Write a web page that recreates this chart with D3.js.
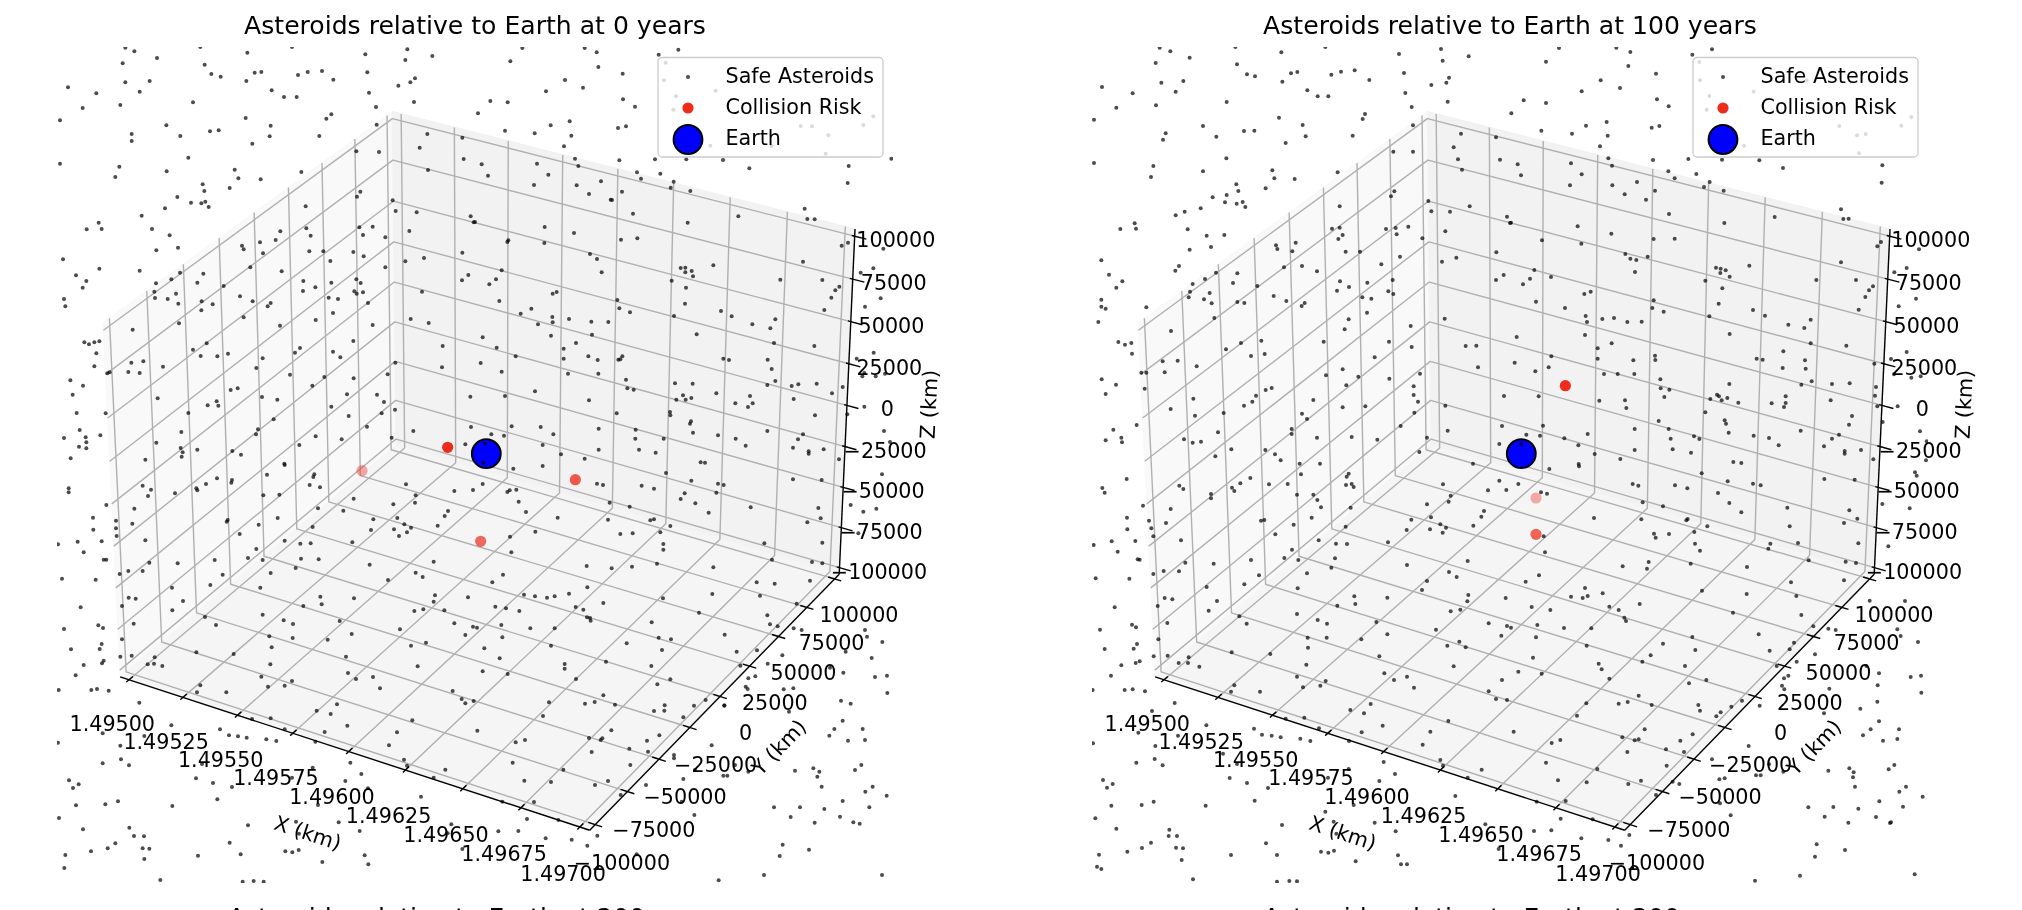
<!DOCTYPE html>
<html>
<head>
<meta charset="utf-8">
<script src="https://cdn.jsdelivr.net/npm/d3@7"></script>
<style>
  html, body { margin: 0; padding: 0; background: #fff; overflow: hidden; }
  svg { display: block; filter: blur(0.75px); }
  text { font-family: "DejaVu Sans", sans-serif; fill: #000; }
</style>
</head>
<body>
<div id="plot-container"></div>
<script>
// axis values
var xTicks = [1.495, 1.49525, 1.4955, 1.49575, 1.496, 1.49625, 1.4965, 1.49675, 1.497]
var yTicks = [-100000, -75000, -50000, -25000, 0, 25000, 50000, 75000, 100000]
var zTicks = [-100000, -75000, -50000, -25000, 0, 25000, 50000, 75000, 100000]
var titles = ['Asteroids relative to Earth at 0 years', 'Asteroids relative to Earth at 100 years']
var nextTitles = ['Asteroids relative to Earth at 200 years', 'Asteroids relative to Earth at 300 years']
var legendNames = ['Safe Asteroids', 'Collision Risk', 'Earth']
var earth = [1.496, 0, 0]

// the 3d depth of the asteroids can't be read from the picture, so they are
// kept as view plane readings, one list per quarter of the view (1254 units a side)
var safe0NW = [[205,2],[232,13],[430,0],[571,17],[705,0],[925,22],[1051,7],[1126,27],[1045,39],[300,33],[197,49],[443,53],[931,76],[463,81],[491,89],[593,77],[613,75],[723,84],[752,75],[795,72],[829,98],[1074,94],[1060,106],[1024,116],[205,106],[278,102],[568,102],[33,121],[118,139],[248,134],[644,130],[681,150],[719,150],[936,137],[408,166],[1071,165],[190,174],[77,183],[957,180],[566,213],[808,215],[823,202],[9,220],[328,235],[641,236],[959,233],[459,253],[485,250],[224,261],[224,282],[370,267],[638,268],[787,267],[586,290],[394,332],[9,350],[187,359],[329,373],[175,390],[533,368],[544,394],[611,397],[733,375],[437,412],[442,432],[518,423],[361,450],[402,467],[433,469],[445,464],[455,480],[324,484],[254,506],[89,547],[125,527],[134,546],[285,546],[338,565],[363,602],[298,610],[18,637],[127,665],[248,671],[57,685],[88,702],[77,722],[21,756],[25,778],[82,886],[96,892],[112,886],[127,883],[118,919],[112,958],[40,1000],[78,1016],[47,1043],[59,1098],[146,1099],[68,1149],[21,1173],[86,1171],[88,1186],[66,1199],[88,1204],[130,1165],[41,1234],
[1111,261],[1216,272],[1088,302],[898,313],[966,315],[1220,336],[1113,369],[910,434],[900,449],[1007,460],[1016,492],[1079,496],[1241,508],[1250,526],[746,478],[748,544],[761,566],[907,541],[947,539],[918,564],[985,571],[1057,552],[670,553],[609,586],[656,579],[555,596],[560,607],[618,619],[757,613],[799,613],[889,615],[920,628],[820,642],[1045,643],[1101,633],[985,661],[1216,617],[580,661],[674,673],[369,677],[439,680],[343,697],[297,709],[421,707],[500,717],[739,702],[823,707],[775,721],[738,732],[898,697],[911,708],[892,733],[899,740],[918,736],[1234,684],[1215,700],[1095,734],[292,734],[294,753],[357,740],[332,756],[364,770],[434,763],[467,772],[549,748],[587,763],[641,768],[632,778],[433,790],[815,752],[843,756],[933,768],[828,798],[560,811],[366,829],[776,819],[669,836],[1061,816],[1115,828],[947,834],[227,848],[449,889],[889,882],[1157,897],[408,908],[729,903],[714,917],[828,914],[850,931],[431,927],[481,928],[513,920],[617,934],[259,943],[223,947],[1015,947],[1155,961],[318,959],[598,963],[214,975],[248,978],[151,979],[158,976],[699,983],[992,982],[802,990],[890,994],[766,1016],[521,1029],[542,1024],[302,1054],[615,1050],[661,1058],[870,1042],[960,1043],[981,1065],[1240,1049],[479,1063],[452,1075],[484,1076],[823,1079],[394,1098],[1014,1088],[974,1099],[875,1107],[650,1117],[930,1139],[1242,1140],[603,1147],[373,1155],[597,1162],[1069,1152],[776,1168],[854,1177],[1004,1172],[298,1187],[727,1194],[1225,1192],[371,1203],[421,1208],[526,1212],[377,1216],[374,1229],[552,1223],[265,1238],[682,1250]]
var safe0NE = [[142,3],[329,3],[365,16],[610,8],[551,23],[106,43],[370,60],[443,80],[270,99],[213,133],[324,122],[46,162],[98,166],[444,157],[480,179],[9,199],[227,235],[284,223],[429,243],[453,238],[90,251],[179,259],[289,266],[267,298],[300,335],[433,340],[540,337],[634,337],[744,339],[1249,335],[310,357],[823,364],[1121,357],[486,376],[556,380],[498,395],[596,404],[587,422],[646,432],[1118,408],[989,485],[790,508],[997,516],[1019,517],
[572,47],[567,100],[603,148],[595,188],[722,131],[1195,208],[977,237],[1011,238],[1165,234],[1060,265],[890,297],[1052,320],[706,296],
[20,352],[186,350],[220,383],[39,386],[177,414],[305,415],[378,403],[342,441],[407,458],[411,459],[441,434],[474,500],[638,527],[209,540],[297,558],[438,578],[487,574],[100,580],[97,585],[208,588],[1100,596],[1119,587],[0,525],[345,621],[366,636],[984,644],[715,655],[617,663],[631,662],[650,672],[631,676],[654,688],[80,670],[63,697],[43,712],[380,676],[590,701],[916,698],[1042,699],[633,722],[1093,719],[1081,730],[1069,752],[233,740],[245,735],[73,762],[427,759],[630,770],[169,785],[433,784],[465,796],[1048,789],[738,792],[137,800],[232,810],[597,807],[770,808],[901,817],[282,816],[233,826],[189,832],[349,824],[400,825],[832,832],[886,844],[228,866],[351,863],[665,862],[23,871],[303,888],[897,888],[1018,897],[65,902],[266,905],[122,928],[340,928],[442,928],[430,938],[436,937],[266,935],[368,939],[745,935],[762,939],[878,938],[17,948],[80,974],[890,966],[279,980],[370,980],[453,998],[901,1002],[600,1009],[653,1010],[877,1014],[950,1017],[970,1012],[1025,1010],[1103,1020],[457,1024],[476,1028],[180,1033],[724,1039],[1071,1039],[90,1047],[624,1045],[649,1053],[604,1058],[632,1058],[825,1047],[342,1060],[956,1056],[781,1069],[833,1069],[819,1080],[585,1095],[586,1105],[425,1099],[1020,1105],[648,1123],[645,1130],[110,1138],[197,1140],[371,1145],[482,1148],[49,1162],[87,1166],[235,1162],[654,1157],[877,1152],[729,1165],[481,1175],[566,1175],[782,1175],[969,1177],[984,1162],[203,1194],[812,1196],[954,1202],[371,1208],[492,1208],[542,1217],[1001,1213],[1046,1207],[1001,1220],[258,1222],[329,1235],[677,1246],[690,1247],[1092,1237],[30,1190],[25,1248],
[1225,605],[1157,677],[1195,664],[1170,779],[1217,754],[1196,917],[1145,935],[1168,978],[1202,988],[1230,980],[1162,988],[1168,1079],[1117,1102],[1227,1152],[1245,1185]]
var safe0SW = [[35,70],[35,82],[148,120],[108,158],[109,194],[3,238],[62,230],[134,229],[80,262],[140,284],[148,284],[15,341],[116,344],[71,427],[21,492],[124,481],[138,489],[134,537],[128,552],[42,553],[140,587],[135,595],[80,600],[56,631],[103,675],[120,672],[155,677],[5,675],[247,713],[3,833],[137,805],[190,842],[137,895],[192,883],[216,901],[36,946],[65,958],[48,969],[57,1021],[145,1018],[183,1009],[6,1059],[78,1093],[217,1088],[231,1113],[261,1114],[175,1135],[152,1150],[102,1159],[257,1150],[277,1151],[25,1170],[262,1182],[22,1209],[310,1245],[590,1248],[557,1250],[620,1250],
[343,781],[489,793],[516,811],[543,814],[569,818],[628,823],[658,828],[262,813],[435,897],[417,940],[468,954],[525,966],[481,1003],[346,1023],[573,1081],[518,1133],[551,1168],[423,1172],[685,1159],[706,1162],[725,1155],[726,1106],[717,1070],[845,1072],[908,1098],[923,1171],[796,1191],[934,1198],[783,1020],[705,938],[767,908],[865,948],[913,927],[933,970],[1092,995],[1183,1078],[1216,1152],[1172,1105],
[257,62],[282,74],[273,93],[354,85],[418,70],[421,76],[447,57],[480,40],[525,45],[523,53],[630,29],[772,28],[769,36],[683,0],[758,60],[789,67],[619,91],[667,89],[1047,58],[1192,78],[1248,75],[1076,91],[1074,113],[890,101],[1009,118],[783,130],[859,137],[232,131],[1173,138],[1163,153],[177,167],[662,159],[512,165],[509,170],[1021,159],[949,163],[1042,178],[1062,188],[226,176],[177,190],[605,179],[767,186],[1011,193],[942,195],[1142,182],[1050,202],[179,213],[548,207],[1026,213],[265,226],[683,227],[730,236],[761,235],[886,232],[598,252],[573,279],[732,281],[785,283],[1130,290],[473,285],[617,285],[277,293],[362,295],[938,299],[716,309],[257,318],[214,318],[188,327],[641,324],[497,329],[1076,323],[1097,336],[993,345],[460,360],[610,368],[345,368],[1134,391],[215,398],[236,401],[790,395],[891,400],[1233,397],[378,408],[794,418],[1130,410],[195,423],[739,423],[346,436],[1072,438],[1099,433],[1162,436],[617,449],[444,456],[680,466],[848,468],[708,477],[230,476],[477,480],[1192,475],[1029,493],[1248,485],[884,507],[1225,510],[637,514],[707,519],[812,524],[195,523],[1062,542],[1107,533],[644,547],[418,562],[530,567],[224,572],[867,575],[293,577],[190,575],[272,598],[291,596],[316,603],[640,598],[1082,604],[873,624],[613,635],[897,642],[948,636],[705,648],[430,661],[633,665],[683,662],[969,670],[420,682],[508,682],[1187,678],[1214,702],[1250,708],[1225,715],[840,718],[779,737],[821,747],[641,760],[585,762],[1066,766],[871,782],[683,793],[803,801],[1020,802],[775,830],[996,841],[880,893],[1041,884],[1165,914],[1050,902],[1130,938]]
var safe0SE = [[115,11],[203,3],[573,24],[1221,28],[954,43],[1040,45],[366,56],[384,60],[500,62],[537,71],[649,47],[729,56],[746,60],[23,57],[124,74],[97,81],[104,76],[724,83],[629,85],[617,102],[131,110],[661,115],[404,113],[464,125],[827,127],[1030,129],[153,141],[701,143],[248,158],[399,164],[526,166],[537,163],[1037,160],[997,172],[586,183],[181,200],[556,202],[436,207],[473,205],[105,215],[868,235],[1042,233],[565,237],[565,254],[109,262],[891,284],[1011,291],[1042,295],[546,296],[335,303],[410,310],[471,305],[715,307],[84,329],[52,352],[845,352],[899,356],[1005,347],[337,367],[282,386],[147,389],[180,394],[216,398],[239,394],[712,387],[855,392],[564,400],[385,414],[965,416],[61,425],[93,430],[302,426],[325,434],[133,438],[672,443],[877,451],[336,457],[345,459],[347,467],[530,472],[885,478],[79,480],[166,490],[239,490],[6,488],[908,484],[956,490],[980,495],[1170,495],[551,518],[588,523],[749,509],[82,517],[455,535],[228,542],[28,550],[561,555],[785,560],[846,556],[74,580],[1176,515],[1222,531],[393,590],[269,597],[269,611],[529,603],[796,602],[23,619],[98,627],[303,642],[586,643],[547,658],[385,691],[222,712],[330,716],[359,711],[420,719],[657,722],[692,705],[569,721],[568,737],[537,738],[748,721],[625,757],[204,753],[7,797],[409,796],[553,811],[342,819],[377,825],[382,820],[516,827],[122,832],[150,825],[463,851],[519,860],[350,861],[113,893],[466,900],[265,914],[399,948],[228,951],[148,947],[360,960],[513,960],[177,1011],[437,990],[82,1010],[156,1062],[250,1065],[290,1124],[212,1120],[337,1142],[130,1098],[70,1099],[367,1112],[658,1050],[485,1168],
[1127,120],[1165,140],[1204,131],[1190,579],[1105,623],[1200,636],[1236,632],[1237,684],[1098,707],[1127,716],[1103,767],[1078,792],[1063,812],[1163,792],[1119,827],[1170,825],[960,917],[1015,910],[1033,920],[1027,935],[1140,915],[1159,900],[1040,965],[1193,965],[1171,980],[1235,992],[1103,1008],[897,1027],[975,1027],[1048,1032],[1183,1027],[947,1056],[1095,1055],[1135,1072],[1154,1076],[1019,1073],[923,1139],[1002,1154],[914,1173],[867,1230],[1221,1230],[731,1246],
[922,571],[878,596],[1065,608],[820,640],[841,634],[812,665],[818,672],[926,673],[955,670],[748,722],[942,740],[710,841],[597,870],[597,880],[660,915],[745,932],[757,932],[780,900],[820,920],[625,942],[620,1010],[1112,560],[1150,205]]

var safe1NW = [[203,2],[235,13],[430,0],[568,16],[700,0],[921,21],[1047,6],[1130,28],[1052,41],[293,32],[191,48],[435,52],[936,78],[465,82],[489,88],[597,79],[616,75],[718,83],[747,74],[788,70],[832,99],[1071,92],[1063,107],[1018,114],[208,107],[274,102],[571,104],[30,120],[122,139],[251,134],[646,130],[677,148],[709,148],[940,138],[404,165],[1067,164],[192,175],[73,182],[959,180],[561,212],[812,216],[819,201],[6,218],[333,237],[632,234],[963,235],[456,252],[487,251],[221,259],[213,278],[373,269],[641,268],[782,266],[581,288],[403,334],[6,348],[184,357],[333,373],[177,390],[541,370],[547,394],[608,396],[737,376],[433,412],[439,432],[521,424],[404,444],[362,451],[399,466],[434,470],[452,465],[460,480],[326,484],[278,494],[251,505],[85,546],[128,529],[132,545],[287,547],[344,566],[397,564],[357,600],[293,608],[28,640],[261,657],[250,671],[51,683],[91,703],[73,722],[28,758],[28,779],[41,785],[163,781],[19,825],[79,885],[99,893],[118,888],[120,920],[29,997],[72,1013],[41,1041],[134,1134],[64,1148],[41,1180],[88,1172],[90,1186],
[1107,260],[1212,271],[1085,301],[904,314],[963,314],[1098,337],[1224,338],[1110,368],[743,478],[907,433],[897,448],[1009,462],[1018,493],[1074,494],[1133,478],[1245,509],[1254,528],[720,545],[743,542],[752,564],[739,576],[882,546],[911,543],[949,539],[914,562],[991,574],[1060,553],[611,587],[552,595],[556,606],[601,613],[761,614],[804,614],[924,629],[1050,644],[1093,632],[1213,616],[868,652],[576,661],[630,657],[675,673],[372,677],[436,679],[339,696],[302,711],[423,708],[496,717],[902,699],[744,703],[826,707],[771,720],[735,731],[889,733],[904,741],[1235,684],[1212,699],[294,734],[290,751],[353,738],[336,757],[359,769],[436,765],[457,768],[545,747],[583,762],[638,768],[629,777],[811,751],[838,755],[825,797],[367,813],[770,817],[758,847],[956,837],[1058,815],[237,852],[447,888],[508,881],[695,884],[891,884],[1121,897],[1153,896],[402,907],[959,900],[518,921],[477,927],[848,931],[212,943],[257,941],[314,958],[148,977],[163,977],[218,976],[752,967],[1158,961],[984,980],[702,985],[799,989],[892,995],[158,1025],[763,1015],[965,1018],[539,1023],[521,1029],[965,1044],[492,1046],[304,1055],[664,1059],[1236,1047],[978,1064],[481,1064],[456,1076],[236,1086],[1060,1076],[820,1078],[752,1081],[395,1098],[967,1097],[309,1106],[630,1100],[645,1116],[926,1137],[1230,1137],[599,1146],[599,1161],[378,1156],[1067,1151],[675,1172],[779,1170],[276,1177],[856,1178],[1005,1172],[302,1187],[327,1184],[1222,1191],[418,1207],[520,1209],[982,1215],[549,1222],[370,1228],[566,1240],[623,1250],[684,1250],[1143,1250]]
var safe1NE = [[147,3],[319,2],[361,15],[606,7],[547,23],[108,44],[355,57],[438,80],[272,100],[215,133],[330,123],[41,160],[108,168],[441,157],[476,178],[4,199],[228,236],[290,225],[425,242],[448,237],[94,251],[186,260],[293,266],[270,298],[295,334],[429,339],[535,336],[636,338],[748,340],[306,356],[819,363],[1117,355],[475,373],[559,381],[494,394],[599,405],[582,420],[641,431],[1115,407],[993,487],[794,510],[1000,516],[1016,515],
[568,45],[570,100],[598,147],[590,188],[731,134],[1204,210],[988,237],[1041,265],[1067,261],[1174,236],[702,296],[1047,319],[890,100],
[23,352],[183,349],[215,382],[33,385],[180,415],[307,415],[381,405],[344,442],[408,458],[435,431],[477,501],[643,528],[203,538],[304,560],[3,527],[96,580],[214,590],[431,576],[494,575],[1102,598],[1113,585],[346,621],[361,635],[379,639],[413,629],[993,646],[718,656],[618,662],[632,665],[647,670],[631,678],[659,689],[73,669],[123,690],[60,695],[39,712],[375,675],[586,701],[919,699],[1038,699],[637,724],[1089,718],[1077,730],[1066,750],[242,734],[223,741],[78,764],[431,760],[626,770],[165,783],[427,783],[461,794],[1046,788],[729,789],[227,807],[598,808],[765,806],[902,818],[277,816],[312,813],[231,825],[352,825],[395,824],[835,833],[883,843],[225,864],[659,861],[20,870],[305,889],[902,889],[1009,896],[263,904],[820,913],[124,928],[263,935],[435,926],[436,939],[370,940],[740,935],[758,938],[885,940],[1093,950],[14,947],[116,961],[76,973],[818,963],[887,965],[282,981],[323,981],[373,981],[451,997],[905,1003],[658,1011],[874,1013],[966,1011],[1019,1009],[1098,1020],[452,1024],[478,1028],[86,1048],[1095,1046],[621,1043],[627,1048],[652,1053],[601,1056],[635,1060],[463,1050],[827,1048],[268,1061],[345,1060],[962,1060],[685,1067],[785,1069],[827,1068],[822,1080],[349,1083],[1102,1078],[586,1096],[1026,1107],[446,1122],[644,1120],[648,1130],[1017,1133],[99,1136],[374,1146],[476,1146],[872,1151],[49,1163],[90,1166],[233,1161],[656,1157],[731,1166],[552,1168],[163,1174],[482,1175],[568,1176],[777,1173],[966,1175],[987,1163],[205,1195],[806,1195],[942,1198],[374,1209],[488,1207],[543,1217],[1004,1212],[1053,1209],[1004,1220],[254,1221],[331,1236],[670,1245],[694,1248],[1090,1237],[33,1192],[206,1251],
[1227,607],[1153,676],[1190,663],[1166,778],[1218,755],[1190,915],[1143,936],[1152,982],[1204,992],[1232,988],[1163,1078],[1118,1125],[1230,1153],[1250,1183],[1248,1240]]
var safe1SW = [[104,42],[31,69],[38,83],[153,122],[105,158],[106,193],[5,240],[59,229],[130,228],[77,260],[137,283],[143,284],[11,340],[112,341],[68,427],[24,494],[120,479],[132,487],[135,537],[125,551],[38,552],[143,589],[131,594],[88,601],[57,632],[98,675],[122,673],[159,679],[2,675],[248,714],[3,835],[139,803],[180,738],[190,843],[133,893],[188,882],[212,901],[33,945],[62,957],[45,968],[58,1022],[149,1020],[185,1010],[10,1060],[73,1091],[232,1094],[230,1113],[255,1113],[177,1133],[150,1149],[106,1160],[252,1148],[273,1150],[21,1169],[269,1185],[15,1205],[28,1212],[303,1243],[555,1250],[592,1248],[615,1249],
[343,781],[486,791],[510,809],[539,812],[566,817],[625,821],[655,828],[258,812],[393,866],[435,897],[413,939],[465,954],[528,969],[488,1007],[341,1022],[570,1080],[522,1135],[555,1170],[417,1170],[687,1160],[709,1163],[726,1157],[733,1106],[725,1070],[700,1040],[848,1073],[911,1099],[918,1171],[791,1189],[927,1198],[945,1198],[785,1020],[708,938],[770,912],[862,948],[909,927],[1090,993],[1180,1078],[1220,1152],
[262,62],[274,72],[357,87],[357,100],[420,68],[427,78],[445,55],[475,39],[531,58],[587,57],[627,28],[770,26],[764,35],[762,60],[779,57],[785,66],[615,89],[664,89],[676,105],[1053,58],[1188,76],[1243,75],[1222,47],[1076,92],[1070,110],[1005,118],[687,127],[236,132],[776,128],[1176,138],[1168,155],[171,167],[659,158],[507,167],[517,165],[1017,157],[958,164],[1045,178],[1062,188],[222,174],[178,190],[605,179],[761,185],[1014,193],[944,195],[1144,182],[1052,203],[184,214],[550,208],[267,226],[680,226],[732,236],[765,237],[888,232],[600,254],[577,279],[729,280],[619,285],[477,285],[1127,288],[280,293],[365,296],[945,300],[718,308],[261,319],[215,318],[184,327],[645,325],[501,331],[1071,321],[1094,336],[1005,348],[457,358],[617,370],[344,366],[990,375],[1129,390],[218,399],[241,403],[787,394],[886,398],[1241,399],[375,408],[790,417],[1126,409],[197,423],[736,422],[350,437],[1076,439],[1105,434],[615,447],[442,454],[677,465],[853,471],[705,476],[226,474],[464,476],[1190,475],[1032,494],[1245,483],[886,508],[1228,512],[647,518],[704,518],[808,523],[199,523],[1066,542],[1102,530],[1121,547],[648,548],[419,562],[535,567],[227,572],[862,574],[290,577],[185,574],[260,594],[288,594],[322,605],[643,599],[1085,604],[877,625],[1230,645],[615,635],[906,645],[945,635],[701,648],[427,661],[633,667],[685,662],[966,668],[417,680],[504,680],[1190,679],[1212,702],[1245,705],[836,717],[775,735],[816,745],[637,758],[581,761],[1069,768],[872,782],[681,790],[809,802],[1015,800],[771,828],[992,839],[875,891],[1045,885],[1169,914],[1053,902],[1127,938]]
var safe1SE = [[118,12],[207,4],[575,25],[1215,22],[1220,32],[943,42],[1034,44],[368,57],[385,62],[495,61],[532,70],[653,49],[729,56],[752,61],[25,57],[93,82],[111,86],[624,84],[398,112],[459,124],[658,114],[832,128],[1018,136],[1117,117],[1199,130],[694,142],[252,159],[394,163],[529,166],[533,162],[1042,161],[1002,174],[592,184],[839,184],[553,201],[432,206],[437,218],[477,207],[101,214],[864,234],[1045,235],[555,236],[781,236],[775,251],[570,257],[105,262],[1135,244],[896,286],[1007,290],[1038,294],[416,291],[542,296],[338,304],[411,311],[711,306],[87,331],[47,350],[843,352],[1002,346],[225,369],[278,385],[233,393],[183,395],[218,399],[576,377],[710,387],[859,393],[389,417],[65,426],[121,435],[298,425],[326,435],[669,443],[874,450],[343,458],[348,468],[82,480],[162,489],[244,490],[3,488],[910,484],[955,491],[977,495],[1162,493],[547,516],[746,508],[78,517],[459,536],[230,542],[556,555],[779,557],[852,533],[839,553],[422,571],[69,578],[1172,513],[1224,531],[397,590],[266,596],[275,613],[525,603],[800,603],[25,620],[95,626],[298,641],[589,645],[537,655],[386,692],[229,715],[326,716],[353,711],[425,720],[664,725],[696,707],[565,720],[570,737],[632,742],[619,754],[201,752],[11,800],[404,793],[548,808],[337,817],[374,826],[386,823],[511,827],[125,834],[151,825],[468,853],[522,861],[352,861],[108,893],[470,902],[262,912],[393,947],[230,952],[144,946],[355,957],[508,957],[167,1008],[488,950],[438,990],[80,1010],[152,1061],[248,1063],[295,1125],[214,1120],[333,1142],[124,1096],[72,1098],[358,1110],[662,1051],
[1079,407],[1185,408],[915,568],[860,590],[1069,603],[1107,625],[1202,636],[1233,632],[1103,661],[1234,683],[1102,710],[1051,731],[1107,769],[1082,793],[1059,811],[1167,793],[1119,827],[1162,822],[958,671],[822,640],[835,632],[816,662],[823,673],[749,722],[942,745],[716,843],[606,883],[628,943],[644,940],[738,931],[752,931],[777,898],[820,920],[630,1015],[1153,900],[1136,913],[955,917],[1018,910],[1031,922],[1029,937],[1035,965],[1188,965],[1168,980],[1238,995],[1108,1009],[895,1027],[970,1026],[1045,1031],[1179,1025],[944,1055],[1098,1056],[1143,1072],[1140,1074],[1015,1073],[920,1138],[1005,1155],[915,1175],[870,1232],[1214,1228],[735,1247]]

// collision risk asteroids, same view plane (0 to 2508), with their depth shade
var risk0 = [[1172,1201],[915,1271],[1555,1298],[1271,1483]]
var riskShade0 = [1, 0.4, 0.78, 0.7]
var risk1 = [[1420,1016],[1332,1353],[1332,1462]]
var riskShade1 = [1, 0.38, 0.72]

var panels = [
  {left: 57, title: titles[0], next: nextTitles[0], risk: risk0, shade: riskShade0,
   quarters: [safe0NW, safe0NE, safe0SW, safe0SE]},
  {left: 1092, title: titles[1], next: nextTitles[1], risk: risk1, shade: riskShade1,
   quarters: [safe1NW, safe1NE, safe1SW, safe1SE]}
]

var axTop = 47 // plain "top" is taken by window.top
var size = 836

// matplotlib's default 3d camera: elev 30, azim -60, dist 10
var el = 30 * Math.PI / 180
var az = -60 * Math.PI / 180
var dist = 10
var box = [1.1905, 1.1905, 0.8929]
var R = box.map(d => d / 2)
var w = [Math.cos(el) * Math.cos(az), Math.cos(el) * Math.sin(az), Math.sin(el)]
var u = [-Math.sin(az), Math.cos(az), 0]
var v = [-Math.sin(el) * Math.cos(az), -Math.sin(el) * Math.sin(az), Math.cos(el)]
var dot = (a, b) => a[0] * b[0] + a[1] * b[1] + a[2] * b[2]

// limits get matplotlib's 1/48 view margin
function withMargin (ticks) {
  var lo = d3.min(ticks), hi = d3.max(ticks)
  return [lo - (hi - lo) / 48, hi + (hi - lo) / 48]
}
var xBox = d3.scaleLinear().domain(withMargin(xTicks)).range([0, 1])
var yBox = d3.scaleLinear().domain(withMargin(yTicks)).range([0, 1])
var zBox = d3.scaleLinear().domain(withMargin(zTicks)).range([0, 1])

var svg = d3.select('#plot-container').append('svg')
  .attr('width', 2022)
  .attr('height', 910)

panels.forEach(function (p, i) {
  var xView = d3.scaleLinear().domain([-0.095, 0.09]).range([p.left, p.left + size])
  var yView = d3.scaleLinear().domain([-0.095, 0.09]).range([axTop + size, axTop])
  var uScale = d3.scaleLinear().domain([0, 2508]).range([p.left, p.left + size])
  var vScale = d3.scaleLinear().domain([0, 2508]).range([axTop, axTop + size])

  // a point given as fractions of the box
  function project (fx, fy, fz) {
    var q = [fx * box[0] - R[0], fy * box[1] - R[1], fz * box[2] - R[2]]
    var depth = dist - dot(q, w)
    return [xView(dot(q, u) / depth), yView(dot(q, v) / depth)]
  }
  var path = d3.line()

  var g = svg.append('g')

  // panes
  var panes = [
    {c: [[0, 0, 0], [0, 1, 0], [0, 1, 1], [0, 0, 1]], fill: '#f9f9f9'},
    {c: [[0, 1, 0], [1, 1, 0], [1, 1, 1], [0, 1, 1]], fill: '#f2f2f2'},
    {c: [[0, 0, 0], [1, 0, 0], [1, 1, 0], [0, 1, 0]], fill: '#f5f5f5'}
  ]
  g.selectAll('.pane').data(panes).enter().append('path')
    .attr('class', 'pane')
    .attr('d', d => path(d.c.map(c => project(c[0], c[1], c[2]))) + 'Z')
    .attr('fill', d => d.fill)
    .attr('stroke', d => d.fill)
    .attr('stroke-width', 1.3)

  // grid lines run along the floor and up the walls
  var gridLines = []
  xTicks.forEach(t => gridLines.push([[xBox(t), 0, 0], [xBox(t), 1, 0], [xBox(t), 1, 1]]))
  yTicks.forEach(t => gridLines.push([[1, yBox(t), 0], [0, yBox(t), 0], [0, yBox(t), 1]]))
  zTicks.forEach(t => gridLines.push([[0, 0, zBox(t)], [0, 1, zBox(t)], [1, 1, zBox(t)]]))
  g.selectAll('.grid').data(gridLines).enter().append('path')
    .attr('class', 'grid')
    .attr('d', d => path(d.map(c => project(c[0], c[1], c[2]))))
    .attr('fill', 'none')
    .attr('stroke', '#b0b0b0')
    .attr('stroke-width', 1.4)
    .attr('stroke-linejoin', 'round')

  // axis lines
  var axisLines = [[[0, 0, 0], [1, 0, 0]], [[1, 0, 0], [1, 1, 0]], [[1, 1, 0], [1, 1, 1]]]
  xTicks.forEach(t => axisLines.push([[xBox(t), -0.009, 0], [xBox(t), 0.013, 0]]))
  yTicks.forEach(t => axisLines.push([[0.986, yBox(t), 0], [1.014, yBox(t), 0]]))
  zTicks.forEach(t => axisLines.push([[0.994, 1, zBox(t)], [1.024, 1, zBox(t)]]))
  g.selectAll('.axisline').data(axisLines).enter().append('path')
    .attr('class', 'axisline')
    .attr('d', d => path(d.map(c => project(c[0], c[1], c[2]))))
    .attr('fill', 'none')
    .attr('stroke', '#000')
    .attr('stroke-width', 1.4)

  // tick labels
  var fmt = t => String(t).replace('-', '\u2212')
  var tickLabels = []
  xTicks.forEach(t => tickLabels.push({pos: project(xBox(t), -0.06, -0.08), text: t.toFixed(5)}))
  yTicks.forEach(t => tickLabels.push({pos: project(1.055, yBox(t), -0.08), text: fmt(t)}))
  zTicks.forEach(t => tickLabels.push({pos: project(1.07, 1.03, zBox(t)), text: fmt(t)}))
  g.selectAll('.ticklabel').data(tickLabels).enter().append('text')
    .attr('class', 'ticklabel')
    .attr('x', d => d.pos[0])
    .attr('y', d => d.pos[1] + 8.7)
    .attr('text-anchor', 'middle')
    .attr('font-size', 20.7)
    .text(d => d.text)

  // axis titles
  var axisTitles = [
    {pos: project(0.52, -0.175, -0.09), angle: 18, text: 'X (km)'},
    {pos: project(1.125, 0.5, -0.095), angle: -46, text: 'Y (km)'},
    {pos: project(1.125, 1.1, 0.485), angle: -87.3, text: 'Z (km)'}
  ]
  g.selectAll('.axistitle').data(axisTitles).enter().append('text')
    .attr('class', 'axistitle')
    .attr('transform', d => 'translate(' + d.pos[0] + ',' + d.pos[1] + ') rotate(' + d.angle + ')')
    .attr('y', 7)
    .attr('text-anchor', 'middle')
    .attr('font-size', 20.7)
    .text(d => d.text)

  // titles, the second row of the figure only just shows at the bottom
  var cx = p.left + size / 2
  g.append('text').attr('x', cx).attr('y', 34).attr('text-anchor', 'middle').attr('font-size', 25.1).text(p.title)
  g.append('text').attr('x', cx).attr('y', 925.5).attr('text-anchor', 'middle').attr('font-size', 25.1).text(p.next)

  // scatter is clipped to the axes box
  svg.append('clipPath').attr('id', 'clip' + i).append('rect')
    .attr('x', p.left).attr('y', axTop).attr('width', size).attr('height', size)
  var marks = svg.append('g').attr('clip-path', 'url(#clip' + i + ')')

  var e = project(xBox(earth[0]), yBox(earth[1]), zBox(earth[2]))
  marks.append('circle')
    .attr('cx', e[0]).attr('cy', e[1]).attr('r', 14.4)
    .attr('fill', '#0000ff').attr('stroke', '#000').attr('stroke-width', 2)

  marks.selectAll('.risk').data(p.risk).enter().append('circle')
    .attr('class', 'risk')
    .attr('cx', d => uScale(d[0]))
    .attr('cy', d => vScale(d[1]))
    .attr('r', 5.6)
    .attr('fill', '#ee2c1c')
    .attr('fill-opacity', (d, j) => p.shade[j])

  // quarters: 0 NW, 1 NE, 2 SW, 3 SE
  p.quarters.forEach(function (q, k) {
    var du = k % 2 * 1254
    var dv = (k > 1 ? 1 : 0) * 1254
    marks.selectAll('.safe' + k).data(q).enter().append('circle')
      .attr('class', 'safe' + k)
      .attr('cx', d => uScale(d[0] + du))
      .attr('cy', d => vScale(d[1] + dv))
      .attr('r', 2)
      .attr('fill', '#000')
      .attr('fill-opacity', 0.7)
  })

  // legend
  var lx = p.left + 601
  var ly = axTop + 10.5
  var leg = svg.append('g').attr('transform', 'translate(' + lx + ',' + ly + ')')
  leg.append('rect')
    .attr('width', 225).attr('height', 99.5).attr('rx', 4)
    .attr('fill', '#fff').attr('fill-opacity', 0.8)
    .attr('stroke', '#ccc').attr('stroke-width', 1.3)
  var rows = d3.scaleOrdinal().domain(legendNames).range([19.5, 50.5, 82])
  leg.selectAll('text').data(legendNames).enter().append('text')
    .attr('x', 67.5)
    .attr('y', d => rows(d) + 5.5)
    .attr('font-size', 20.7)
    .text(d => d)
  leg.append('circle').attr('cx', 30).attr('cy', rows(legendNames[0])).attr('r', 2)
    .attr('fill', '#000').attr('fill-opacity', 0.7)
  leg.append('circle').attr('cx', 30).attr('cy', rows(legendNames[1])).attr('r', 5.6)
    .attr('fill', '#ee2c1c')
  leg.append('circle').attr('cx', 30).attr('cy', rows(legendNames[2])).attr('r', 14.4)
    .attr('fill', '#0000ff').attr('stroke', '#000').attr('stroke-width', 2)
})
</script>
</body>
</html>
